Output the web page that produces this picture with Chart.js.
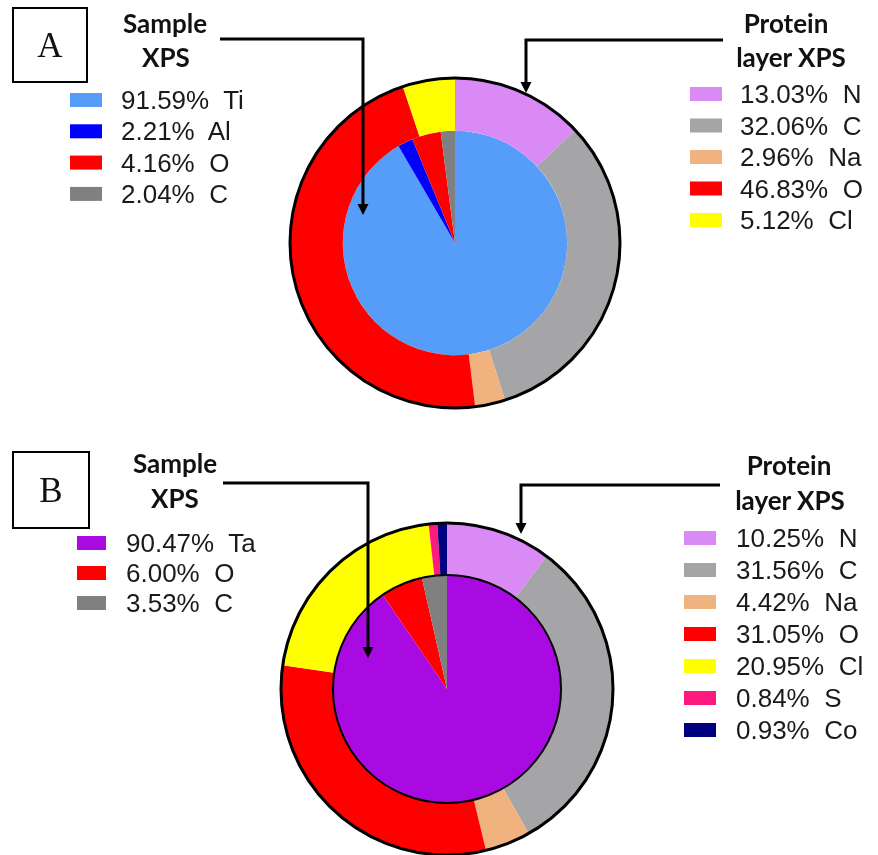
<!DOCTYPE html>
<html>
<head>
<meta charset="utf-8">
<script src="https://cdn.jsdelivr.net/npm/chart.js@4.4.0/dist/chart.umd.min.js"></script>
<style>
  html, body { margin: 0; padding: 0; background: #fff; }
  #page { position: relative; width: 878px; height: 855px; overflow: hidden; }
  .pie { position: absolute; }
  #overlay { position: absolute; left: 0; top: 0; pointer-events: none; }
  .ttl { font-family: Lato, "Open Sans", sans-serif; font-weight: 700; font-size: 26px; fill: #111; }
  .leg { font-family: "Liberation Sans", Arial, sans-serif; font-size: 26px; fill: #1a1a1a; white-space: pre; }
  .letter { font-family: "Liberation Serif", "Times New Roman", serif; font-size: 35px; fill: #111; }
</style>
</head>
<body>
<div id="page">
  <div class="pie" id="boxA"><canvas id="chartA"></canvas></div>
  <div class="pie" id="boxB"><canvas id="chartB"></canvas></div>
  <svg id="overlay" width="878" height="855" xmlns="http://www.w3.org/2000/svg"></svg>
</div>
<script>
'use strict';

// Panel A data
var sampleLabelsA = ['Ti', 'Al', 'O', 'C'];
var sampleValuesA = [91.59, 2.21, 4.16, 2.04];
var sampleColorsA = ['#559df8', '#0000ff', '#ff0000', '#808080'];
var proteinLabelsA = ['N', 'C', 'Na', 'O', 'Cl'];
var proteinValuesA = [13.03, 32.06, 2.96, 46.83, 5.12];
var proteinColorsA = ['#da8af5', '#a5a5a8', '#f0b27f', '#ff0000', '#ffff00'];

// Panel B data
var sampleLabelsB = ['Ta', 'O', 'C'];
var sampleValuesB = [90.47, 6.00, 3.53];
var sampleColorsB = ['#aa0ae2', '#ff0000', '#808080'];
var proteinLabelsB = ['N', 'C', 'Na', 'O', 'Cl', 'S', 'Co'];
var proteinValuesB = [10.25, 31.56, 4.42, 31.05, 20.95, 0.84, 0.93];
var proteinColorsB = ['#da8af5', '#a5a5a8', '#f0b27f', '#ff0000', '#ffff00', '#ff1a80', '#000080'];

var svg = document.getElementById('overlay');
var NS = 'http://www.w3.org/2000/svg';

function el(tag, attrs, text) {
  var e = document.createElementNS(NS, tag);
  for (var k in attrs) e.setAttribute(k, attrs[k]);
  if (text !== undefined) e.textContent = text;
  svg.appendChild(e);
  return e;
}

// black circle round the outer ring (and round the inner pie if asked)
var ringBorder = {
  id: 'ringBorder',
  afterDatasetsDraw: function(chart, args, opts) {
    var ctx = chart.ctx;
    var outer = chart.getDatasetMeta(0).data[0];
    var inner = chart.getDatasetMeta(1).data[0];
    ctx.save();
    ctx.strokeStyle = '#000';
    if (opts.inner) {
      ctx.lineWidth = 2;
      ctx.beginPath();
      ctx.arc(inner.x, inner.y, inner.outerRadius, 0, Math.PI * 2);
      ctx.stroke();
    }
    ctx.lineWidth = 3;
    ctx.beginPath();
    ctx.arc(outer.x, outer.y, outer.outerRadius, 0, Math.PI * 2);
    ctx.stroke();
    ctx.restore();
  }
};

function makePie(id, boxId, cx, cy, r, innerFrac, protein, pColors, sample, sColors, innerBorder) {
  var box = document.getElementById(boxId);
  var size = 2 * r + 8;
  box.style.left = (cx - r - 4) + 'px';
  box.style.top = (cy - r - 4) + 'px';
  box.style.width = size + 'px';
  box.style.height = size + 'px';
  return new Chart(document.getElementById(id), {
    type: 'doughnut',
    data: {
      datasets: [
        { data: protein, backgroundColor: pColors, borderWidth: 0, weight: 1 - innerFrac },
        { data: sample, backgroundColor: sColors, borderWidth: 0, weight: innerFrac }
      ]
    },
    options: {
      responsive: true,
      maintainAspectRatio: false,
      animation: false,
      cutout: 0,
      layout: { padding: 4 },
      plugins: {
        legend: { display: false },
        tooltip: { enabled: false },
        ringBorder: { inner: innerBorder }
      }
    },
    plugins: [ringBorder]
  });
}

makePie('chartA', 'boxA', 455, 243, 165, 0.68, proteinValuesA, proteinColorsA, sampleValuesA, sampleColorsA, false);
makePie('chartB', 'boxB', 447, 689, 166, 0.687, proteinValuesB, proteinColorsB, sampleValuesB, sampleColorsB, true);

function legend(labels, values, colors, swX, swW, txtX, y0, step) {
  for (var i = 0; i < labels.length; i++) {
    var y = y0 + i * step;
    el('rect', { x: swX, y: y - 7, width: swW, height: 14, fill: colors[i] });
    el('text', { x: txtX, y: y + 9, 'class': 'leg' },
      values[i].toFixed(2) + '%  ' + labels[i]);
  }
}

function arrow(x1, y1, xc, tipY) {
  el('path', { d: 'M' + x1 + ',' + y1 + ' H' + xc + ' V' + (tipY - 10), stroke: '#000', 'stroke-width': 3, fill: 'none' });
  el('path', { d: 'M' + (xc - 5.5) + ',' + (tipY - 11) + ' L' + (xc + 5.5) + ',' + (tipY - 11) + ' L' + xc + ',' + tipY + ' Z', fill: '#000' });
}

function letterBox(x, y, w, h, ch) {
  el('rect', { x: x, y: y, width: w, height: h, fill: '#fff', stroke: '#000', 'stroke-width': 2 });
  el('text', { x: x + w / 2, y: y + h / 2 + 12, 'text-anchor': 'middle', 'class': 'letter' }, ch);
}

// panel A
letterBox(13, 8, 74, 74, 'A');
el('text', { x: 165, y: 33, 'text-anchor': 'middle', 'class': 'ttl' }, 'Sample');
el('text', { x: 166, y: 67, 'text-anchor': 'middle', 'class': 'ttl' }, 'XPS');
el('text', { x: 786, y: 33, 'text-anchor': 'middle', 'class': 'ttl' }, 'Protein');
el('text', { x: 791, y: 67, 'text-anchor': 'middle', 'class': 'ttl' }, 'layer XPS');
legend(sampleLabelsA, sampleValuesA, sampleColorsA, 70, 32, 121, 100, 31.3);
legend(proteinLabelsA, proteinValuesA, proteinColorsA, 690, 32, 740, 94, 31.5);
arrow(220, 39, 363, 215);
arrow(723, 40, 526, 93);

// panel B
letterBox(13, 452, 76, 76, 'B');
el('text', { x: 175, y: 473, 'text-anchor': 'middle', 'class': 'ttl' }, 'Sample');
el('text', { x: 175, y: 508, 'text-anchor': 'middle', 'class': 'ttl' }, 'XPS');
el('text', { x: 789, y: 475, 'text-anchor': 'middle', 'class': 'ttl' }, 'Protein');
el('text', { x: 790, y: 510, 'text-anchor': 'middle', 'class': 'ttl' }, 'layer XPS');
legend(sampleLabelsB, sampleValuesB, sampleColorsB, 77, 29, 126, 543, 30);
legend(proteinLabelsB, proteinValuesB, proteinColorsB, 684, 32, 736, 538, 32);
arrow(223, 483, 368, 658);
arrow(720, 485, 521, 534);
</script>
</body>
</html>
